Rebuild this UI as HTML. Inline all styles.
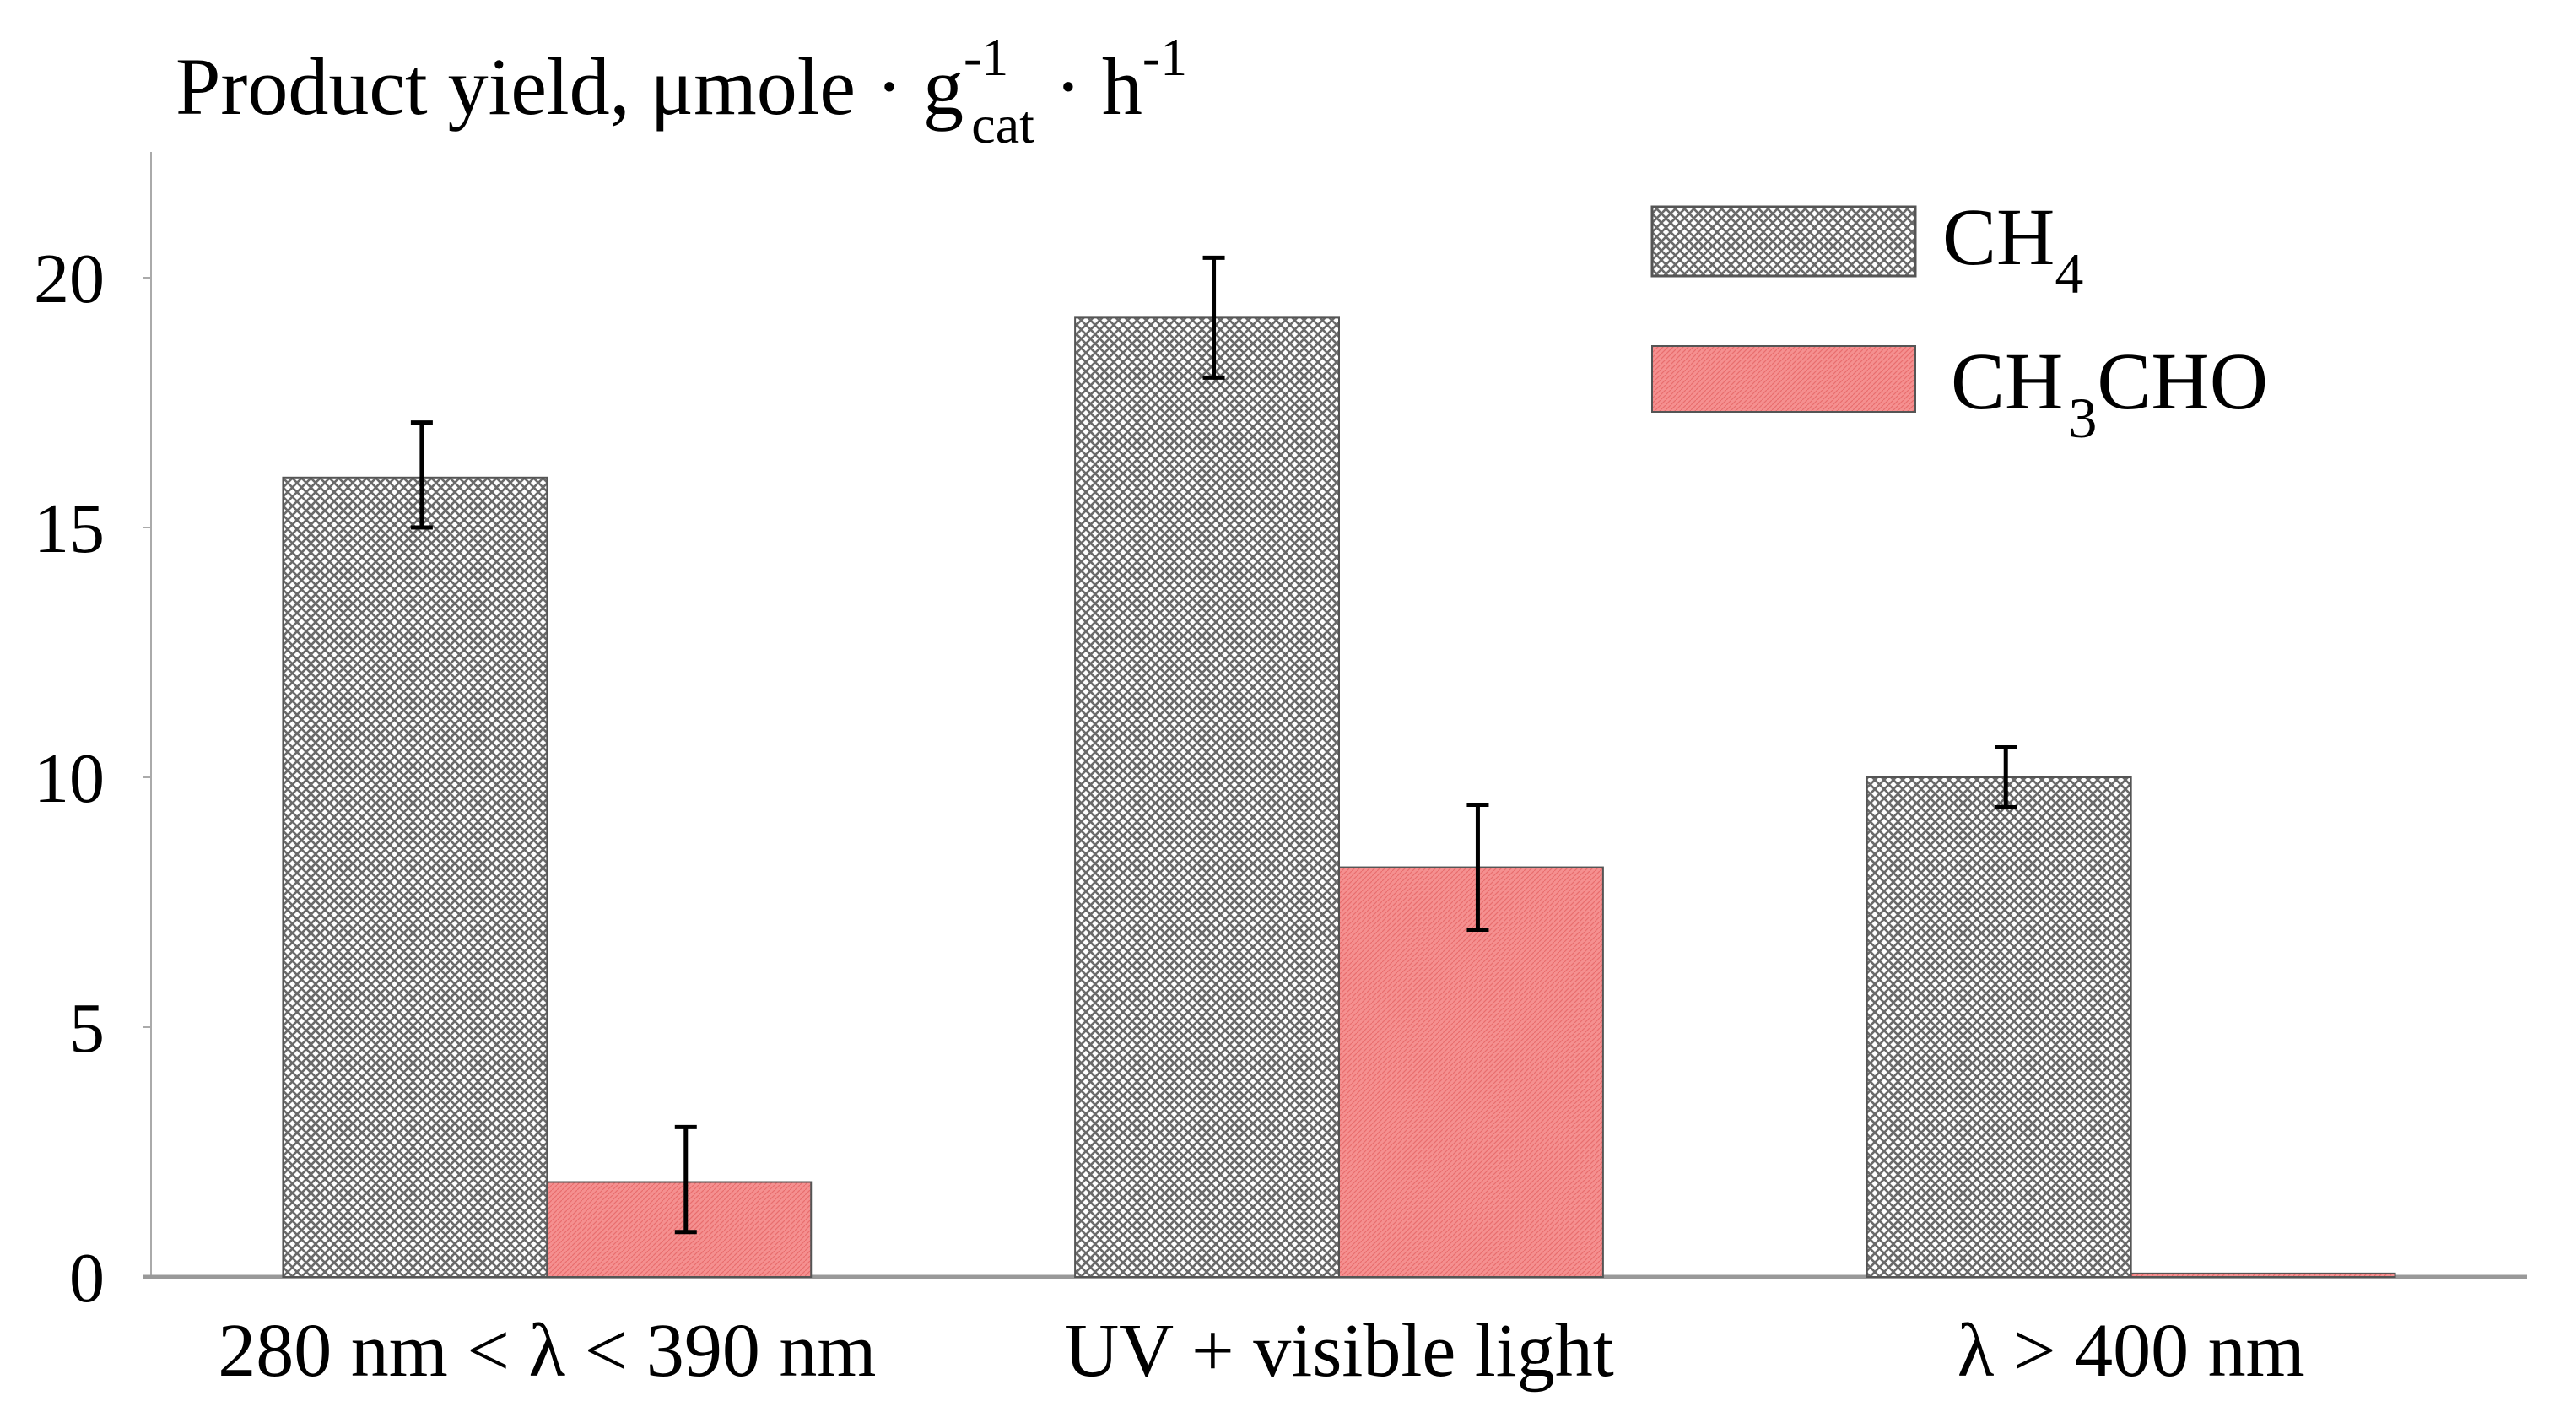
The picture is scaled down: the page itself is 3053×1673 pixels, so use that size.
<!DOCTYPE html>
<html><head><meta charset="utf-8"><style>
html,body{margin:0;padding:0;background:#fff;}
svg{display:block;font-family:"Liberation Serif",serif;}
</style></head><body>
<svg id="chart" width="3053" height="1673" viewBox="0 0 3053 1673" xmlns="http://www.w3.org/2000/svg">
<defs>
<pattern id="hatch" patternUnits="userSpaceOnUse" width="11" height="11">
<rect width="11" height="11" fill="#fff"/>
<path d="M0,0 L11,11 M11,0 L0,11" stroke="#6a6a6a" stroke-width="2.6"/>
</pattern>
<pattern id="redfill" patternUnits="userSpaceOnUse" width="6" height="6">
<rect width="6" height="6" fill="#f59090"/>
<path d="M0,6 L6,0" stroke="#e86d6d" stroke-width="1.2"/>
</pattern>
</defs>
<g id="axes"></g>
<g id="bars"></g>
<text x="208" y="135" font-size="96" fill="#000">Product yield, μmole · g<tspan font-size="64" dy="-46">-1</tspan><tspan font-size="64" dx="-44" dy="80">cat</tspan><tspan font-size="96" dy="-34"> · h</tspan><tspan font-size="64" dy="-46">-1</tspan></text>
<g>
<rect x="1958" y="245" width="312" height="82" fill="url(#hatch)" stroke="#555" stroke-width="3"/>
<text x="2302" y="313" font-size="96">CH<tspan font-size="68" dy="34">4</tspan></text>
<rect x="1958" y="410" width="312" height="78" fill="url(#redfill)" stroke="#555" stroke-width="2"/>
<text x="2312" y="484" font-size="96">CH<tspan font-size="68" dy="34" dx="6">3</tspan><tspan dy="-34">CHO</tspan></text>
</g>
</svg>
<script>
const categories = ["280 nm < λ < 390 nm", "UV + visible light", "λ > 400 nm"];
const ch4Values = [16.0, 19.2, 10.0];
const ch4ErrLow = [15.0, 18.0, 9.4];
const ch4ErrHigh = [17.1, 20.4, 10.6];
const ch3choValues = [1.9, 8.2, 0.07];
const ch3choErrLow = [0.9, 6.95, null];
const ch3choErrHigh = [3.0, 9.45, null];
const yTicks = [0, 5, 10, 15, 20];

const NS = "http://www.w3.org/2000/svg";
const x0 = 179, x1 = 2995, yBase = 1513, pxPerUnit = 59.2;
const groupW = (x1 - x0) / categories.length;
const barW = groupW / 3;
function yScale(v) { return yBase - v * pxPerUnit; }
function groupCenter(i) { return x0 + groupW * (i + 0.5); }
function mk(tag, attrs, parent) {
  const e = document.createElementNS(NS, tag);
  for (const k in attrs) e.setAttribute(k, attrs[k]);
  parent.appendChild(e);
  return e;
}
const axes = document.getElementById('axes');
const bars = document.getElementById('bars');

const yAxis = mk('line', {x1: x0, y1: 180, x2: x0, y2: yBase, stroke: '#aaa', 'stroke-width': 2}, axes);



yTicks.forEach(t => {
  const y = yScale(t);
  const tk = mk('line', {x1: x0 - 10, y1: y, x2: x0, y2: y, stroke: '#aaa', 'stroke-width': 2}, axes);
  
  
  const lb = mk('text', {x: 124, y: y + 29, 'font-size': 84, 'text-anchor': 'end'}, axes);
  lb.textContent = t;
  
  
});

categories.forEach((c, i) => {
  const cx = groupCenter(i);
  const ch4 = mk('rect', {x: cx - barW, y: yScale(ch4Values[i]), width: barW, height: ch4Values[i] * pxPerUnit, fill: 'url(#hatch)', stroke: '#555', 'stroke-width': 2}, bars);
  
  
  const r = mk('rect', {x: cx, y: yScale(ch3choValues[i]), width: barW, height: ch3choValues[i] * pxPerUnit, fill: 'url(#redfill)', stroke: '#555', 'stroke-width': 2}, bars);
  
  

  function err(xc, lo, hi, name) {
    const g = mk('g', {stroke: '#000', 'stroke-width': 5}, bars);
    
    
    mk('line', {x1: xc, y1: yScale(hi), x2: xc, y2: yScale(lo)}, g);
    mk('line', {x1: xc - 13, y1: yScale(hi), x2: xc + 13, y2: yScale(hi)}, g);
    mk('line', {x1: xc - 13, y1: yScale(lo), x2: xc + 13, y2: yScale(lo)}, g);
  }
  err(cx - barW / 2 + 8, ch4ErrLow[i], ch4ErrHigh[i], 'error-bar-ch4-' + i);
  if (ch3choErrLow[i] !== null) err(cx + barW / 2 + 8, ch3choErrLow[i], ch3choErrHigh[i], 'error-bar-ch3cho-' + i);

  const lb = mk('text', {x: cx, y: 1630, 'font-size': 90, 'text-anchor': 'middle'}, axes);
  lb.textContent = c;
  
  
});

const xAxis = mk('line', {x1: x0 - 10, y1: yBase, x2: x1, y2: yBase, stroke: '#999', 'stroke-width': 5}, axes);


</script>
</body></html>
